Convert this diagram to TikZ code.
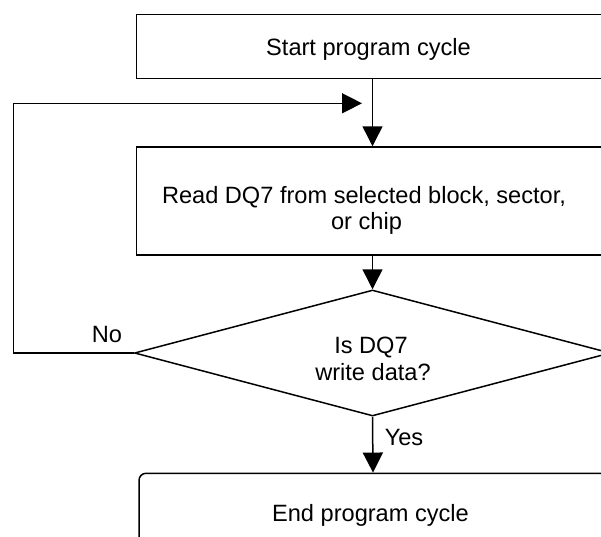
\documentclass[tikz,border=0pt]{standalone}
\usepackage{fontspec}
\setmainfont{Liberation Sans}
\usetikzlibrary{arrows.meta,shapes.geometric}
\begin{document}
\begin{tikzpicture}[x=1pt,y=-1pt,
  line width=1.5pt,
  box/.style={draw, rectangle, inner sep=0pt},
  decbox/.style={draw, diamond, inner sep=0pt},
  txt/.style={font=\fontsize{23.6}{26.5}\selectfont, inner sep=0pt, anchor=base},
  arr/.style={-{Triangle[length=20pt,width=20pt]}}]
\useasboundingbox (0,0) rectangle (601,536);
\clip (0,0) rectangle (601,536);
% boxes
\node[box, minimum width=472pt, minimum height=64.4pt] (start) at (372.5,46.5) {};
\node[box, minimum width=472pt, minimum height=108pt] (read) at (372.5,201) {};
\node[decbox, minimum width=476pt, minimum height=126pt] (dec) at (372.5,353) {};
\node[box, rounded corners=7pt, minimum width=468pt, minimum height=120pt] (end) at (373,533.3) {};
% texts
\node[txt] (starttxt) at (368.5,55.7) {Start program cycle};
\node[txt] (readtxt1) at (364,203.3) {Read DQ7 from selected block, sector,};
\node[txt] (readtxt2) at (366.5,229.3) {or chip};
\node[txt] (dectxt1) at (371,353.3) {Is DQ7};
\node[txt] (dectxt2) at (373,380) {write data?};
\node[txt] (endtxt) at (370.5,521) {End program cycle};
\node[txt] (no) at (107,342.7) {No};
\node[txt, anchor=base west] (yes) at (384,445) {Yes};
% connectors
\coordinate (lc) at (13.3,103.3);
\coordinate (ltip) at (362,103.3);
\draw[arr] (start.south) -- (read.north);
\draw[arr] (read.south) -- (dec.north);
\draw[arr] (dec.south) -- (end.north);
\draw[arr] (dec.west) -- (dec.west -| lc) -- (lc) -- (ltip);
\end{tikzpicture}
\end{document}
